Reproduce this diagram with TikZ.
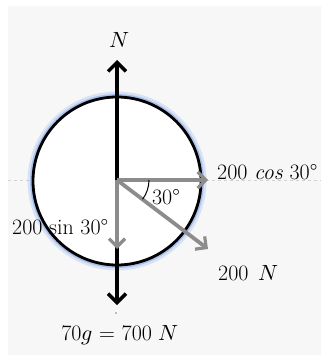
\documentclass[tikz,border=0pt]{standalone}
\usepackage{unicode-math}
\usetikzlibrary{arrows.meta}
\definecolor{halo}{RGB}{130,165,235}
\definecolor{bg}{RGB}{247,247,247}
\definecolor{arrowgray}{RGB}{140,140,140}
\begin{document}
\begin{tikzpicture}[x=1pt,y=-1pt,
  blk/.style={line width=3.8pt,-{Straight Barb[length=9pt,width=18pt,line width=3.4pt]}},
  gry/.style={draw=arrowgray,line width=3.8pt,-{Straight Barb[length=8pt,width=16pt,line width=3.2pt]}},
  lbl/.style={inner sep=0pt,font=\fontsize{22}{25}\selectfont}]
\useasboundingbox (0,0) rectangle (321,355);
\fill[white] (0,0) rectangle (321,355);
\fill[bg] (8,6) rectangle (321,355);
\draw[gray!35,dashed,line width=0.6pt] (8,180) -- (321,180);
% circle with blue halo
\draw[halo,line width=8pt,opacity=0.25] (117,181) circle (85.5);
\draw[halo,line width=5pt,opacity=0.55] (117,181) circle (84.5);
\fill[white] (117,181) circle (84);
\draw[line width=2.8pt] (117,181) circle (84);
\coordinate (O) at (117,180);
\coordinate (top) at (117,60);
\coordinate (bot) at (117,305);
\coordinate (hx) at (208,180);
\coordinate (vy) at (117,249);
\coordinate (dg) at (208,249);
\draw[blk] (O) -- (top);
\draw[blk] (O) -- (bot);
\draw[gry] (O) -- (hx);
\draw[gry] (O) -- (vy);
\draw[gry] (O) -- (dg);
\draw[black,line width=1pt] (149,180) arc[start angle=0,end angle=37,radius=32];
\fill (116,313) circle (0.6);
\node[lbl] (nN) at (119,40) {$N$};
\node[lbl] (n30) at (166,197) {30°};
\node[lbl,anchor=west] (ncos) at (217,172) {200 \textit{cos} 30°};
\node[lbl,anchor=west] (nsin) at (12,227) {200 sin 30°};
\node[lbl,font=\fontsize{22}{25}\selectfont,anchor=west] (n200) at (218,273) {200\hspace{3pt} $N$};
\node[lbl] (nw) at (120,335) {70$g$ = 700 $N$};
\end{tikzpicture}
\end{document}
